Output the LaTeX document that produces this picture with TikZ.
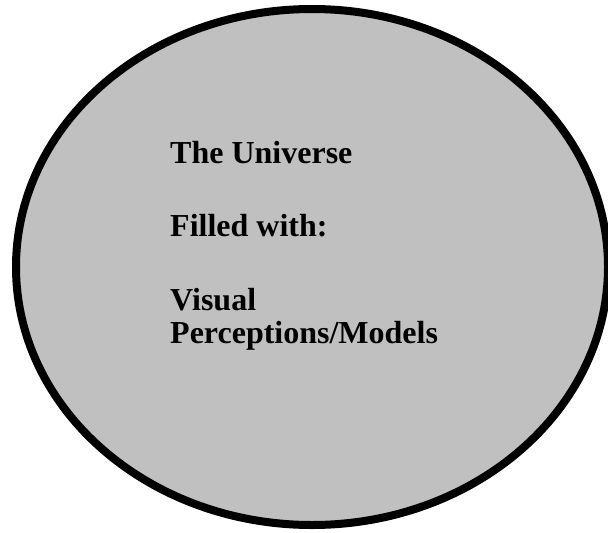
\documentclass[tikz,border=0pt]{standalone}
\usepackage{fontspec}
\setmainfont{Liberation Serif}
\definecolor{fillgray}{RGB}{192,192,192}
\begin{document}
\begin{tikzpicture}[x=1pt,y=-1pt,
  lbl/.style={anchor=base west,inner sep=0pt,font=\fontsize{32}{33}\selectfont\bfseries}]
\useasboundingbox (0,0) rectangle (608,533);
\clip (0,0) rectangle (608,533);
\draw[line width=8pt,fill=fillgray] (312,267) ellipse [x radius=296, y radius=258];
\node[lbl] (t1) at (170,163) {The Universe};
\node[lbl] (t2) at (170,236) {Filled with:};
\node[lbl] (t3) at (170,310) {Visual};
\node[lbl] (t4) at (170,343) {Perceptions/Models};
\end{tikzpicture}
\end{document}
